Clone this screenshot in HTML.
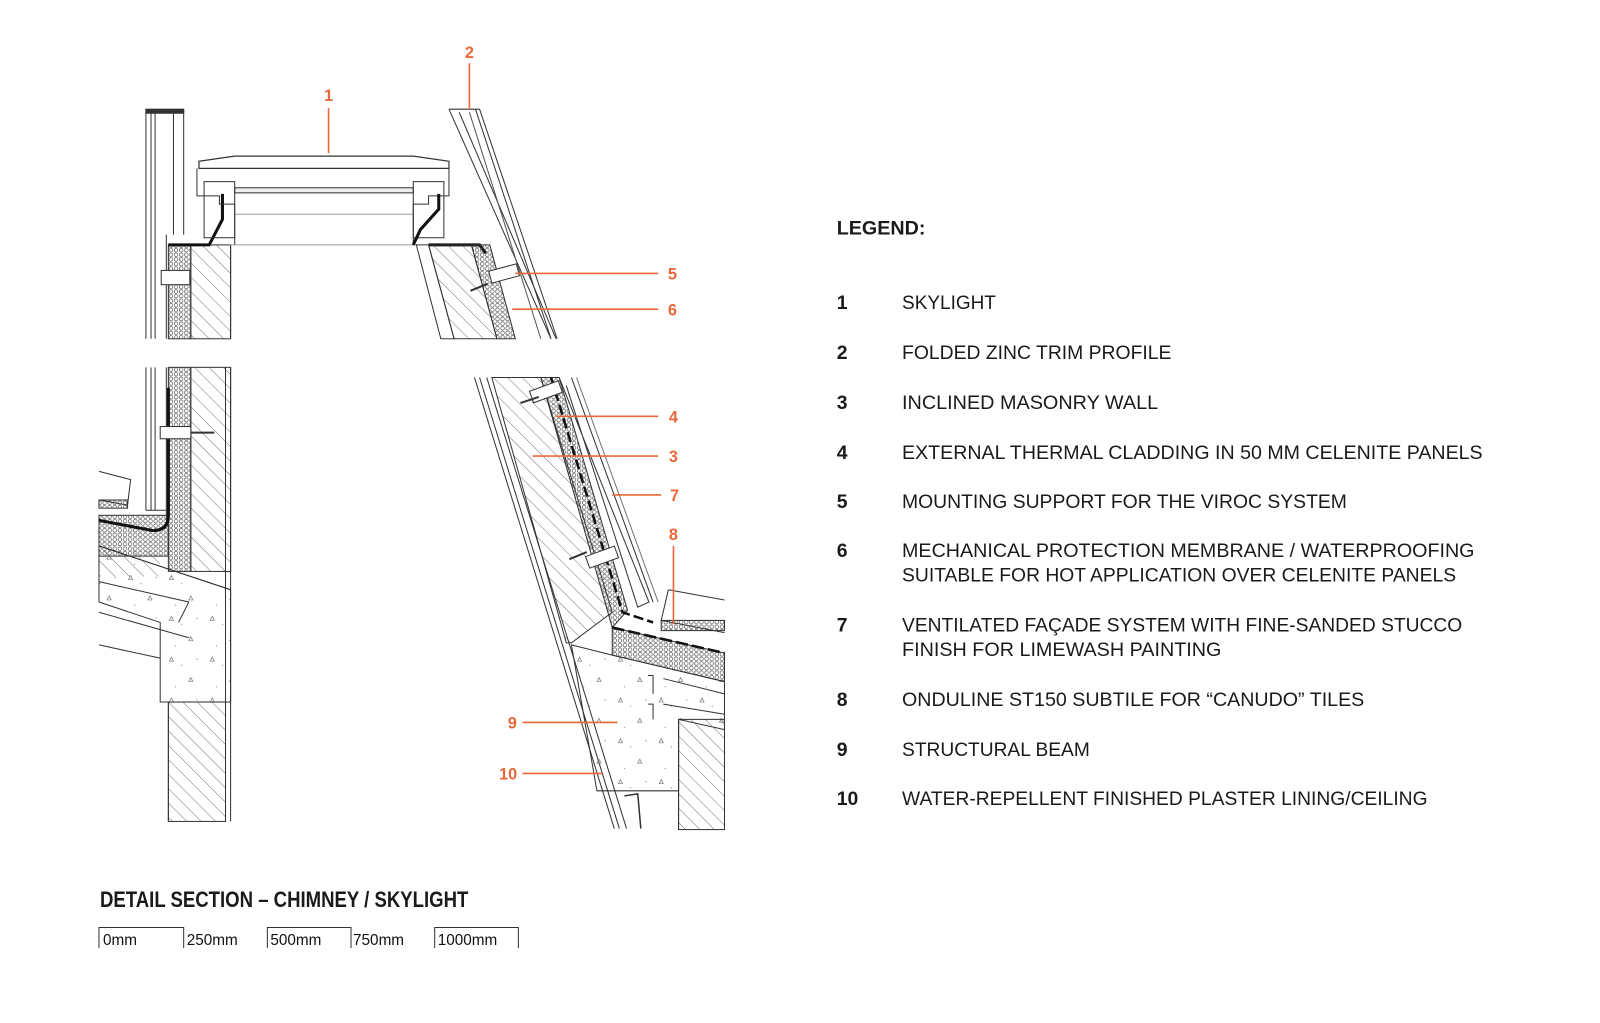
<!DOCTYPE html>
<html><head><meta charset="utf-8"><style>
html,body{margin:0;padding:0;background:#fff;}
svg{display:block;}
</style></head><body>
<svg width="1600" height="1023" viewBox="0 0 1600 1023" xmlns="http://www.w3.org/2000/svg" font-family="Liberation Sans, sans-serif">
<defs>
<pattern id="hatch" width="10" height="10" patternUnits="userSpaceOnUse" patternTransform="rotate(-45)">
<line x1="0" y1="0" x2="0" y2="10" stroke="#555" stroke-width="0.8"/></pattern>
<pattern id="dots" width="5" height="4.5" patternUnits="userSpaceOnUse">
<circle cx="2.5" cy="2.2" r="1.8" fill="none" stroke="#444" stroke-width="0.6"/></pattern>
<pattern id="conc" width="40" height="40" patternUnits="userSpaceOnUse">
<path d="M6 8 l4 0 l-2 -4z M25 28 l4 0 l-2 -4z" fill="none" stroke="#777" stroke-width="0.7"/>
<circle cx="18" cy="12" r="0.6" fill="#888"/><circle cx="33" cy="6" r="0.6" fill="#888"/><circle cx="12" cy="33" r="0.6" fill="#888"/></pattern>
</defs>
<g transform="scale(1.0204)">
<g stroke="#333" stroke-width="1" fill="none">
<rect x="143" y="107" width="37" height="4" fill="#333"/>
<line x1="143" y1="107" x2="143" y2="332"/><line x1="148" y1="107" x2="148" y2="332"/><line x1="152" y1="111" x2="152" y2="332"/>
<line x1="170" y1="111" x2="170" y2="230"/><line x1="180" y1="107" x2="180" y2="230"/>
<line x1="163" y1="230" x2="163" y2="332"/>
<rect x="165" y="240" width="22" height="92" fill="url(#dots)"/>
<rect x="187" y="240" width="39" height="92" fill="url(#hatch)"/>
<line x1="226" y1="240" x2="226" y2="332"/>
<rect x="158" y="265" width="28" height="14" fill="#fff"/>
<path d="M165 240 L205 240 L218 215 L218 190" stroke="#111" stroke-width="3"/>
<path d="M195 158 L230 153 L405 153 L440 158 L440 165 L195 165 Z" fill="#fff" stroke-width="1.2"/>
<path d="M193 165 L193 192 L215 192 L215 200 L230 200 L230 240 M440 165 L440 192 L420 192 L420 200 L405 200 L405 240" />
<rect x="230" y="184" width="175" height="5" fill="#eee"/>
<line x1="230" y1="210" x2="405" y2="210" stroke="#999"/>
<line x1="225" y1="240" x2="410" y2="240" stroke="#999"/>
<rect x="200" y="178" width="30" height="55" /><rect x="405" y="178" width="30" height="55"/>
<path d="M405 240 L412 225 L430 205 L430 190" stroke="#111" stroke-width="3"/>
<path d="M420 240 L470 240 L476 248" stroke="#111" stroke-width="3"/>
<path d="M440 107 L470 107"/><path d="M440 107 L540 332"/><path d="M450 110 L545 332"/><path d="M460 110 L530 332" stroke="#555"/>
<path d="M466 107 L540 332"/><path d="M470 107 L546 332"/>
<polygon points="408,240 420,240 445,332 432,332" fill="#fff"/>
<polygon points="420,240 462,240 487,332 445,332" fill="url(#hatch)"/>
<polygon points="462,240 480,240 505,332 487,332" fill="url(#dots)"/>
<rect x="480" y="262" width="28" height="12" fill="#fff" transform="rotate(-15 494 268)"/>
<line x1="461" y1="285" x2="478" y2="278" stroke-width="2"/>
<line x1="143" y1="360" x2="143" y2="500"/><line x1="148" y1="360" x2="148" y2="500"/><line x1="152" y1="360" x2="152" y2="500"/>
<line x1="163" y1="360" x2="163" y2="510"/>
<line x1="143" y1="500" x2="163" y2="500"/>
<rect x="165" y="360" width="22" height="200" fill="url(#dots)"/>
<rect x="97" y="505" width="68" height="40" fill="url(#dots)"/>
<rect x="187" y="360" width="39" height="200" fill="url(#hatch)"/>
<line x1="221" y1="360" x2="221" y2="805"/><line x1="226" y1="360" x2="226" y2="805"/>
<path d="M165 380 L165 505 Q165 520 150 520 L97 510" stroke="#111" stroke-width="3"/>
<rect x="157" y="418" width="30" height="12" fill="#fff"/>
<line x1="187" y1="424" x2="210" y2="424" stroke-width="2"/>
<path d="M97 462 L128 470 L125 495 L97 490"/>
<rect x="97" y="490" width="28" height="8" fill="url(#dots)"/>
<polygon points="97,535 226,578 226,688 157,688 157,610 97,590" fill="url(#conc)"/>
<rect x="97" y="540" width="60" height="25" fill="url(#hatch)" stroke="none"/>
<path d="M97 570 L185 590 L175 610 M97 600 L185 625"/>
<path d="M97 535 L226 578"/>
<line x1="97" y1="632" x2="157" y2="645"/>
<rect x="165" y="688" width="56" height="117" fill="url(#hatch)"/>
<line x1="165" y1="688" x2="165" y2="805"/>
<path d="M465 370 L602 812"/><path d="M470 370 L607 812"/><path d="M477 370 L614 812"/>
<polygon points="482,370 530,370 600,600 560,630 555,630" fill="url(#hatch)"/>
<polygon points="530,370 548,370 615,598 600,615" fill="url(#dots)"/>
<path d="M540 370 L610 600 L640 610" stroke="#111" stroke-width="2.5" stroke-dasharray="10 4"/>
<path d="M548 370 L636 590 L625 595 L555 378"/>
<path d="M560 370 L640 590"/><path d="M565 370 L645 590" stroke="#777"/>
<rect x="520" y="378" width="30" height="12" fill="#fff" transform="rotate(-20 535 384)"/>
<rect x="575" y="540" width="30" height="12" fill="#fff" transform="rotate(-20 590 546)"/>
<line x1="510" y1="395" x2="528" y2="389" stroke-width="2"/>
<line x1="558" y1="548" x2="575" y2="541" stroke-width="2"/>
<polygon points="600,615 710,640 710,668 600,642" fill="url(#dots)"/>
<path d="M600 615 L710 640" stroke="#111" stroke-width="2.5" stroke-dasharray="12 4"/>
<path d="M655 578 L710 588 M655 578 L648 608 L710 620"/>
<rect x="648" y="608" width="62" height="10" fill="url(#dots)"/>
<polygon points="560,632 600,642 710,668 710,715 665,705 665,775 585,775" fill="url(#conc)"/>
<path d="M635 662 L640 662 L640 680 M635 690 L640 690 L640 705 M650 665 L710 680 M650 690 L710 700"/>
<rect x="665" y="705" width="45" height="108" fill="url(#hatch)"/>
<line x1="665" y1="705" x2="665" y2="813"/>
<path d="M612 780 L625 778 L628 812" stroke-width="1.5"/>
</g>
<g stroke="#e8683a" stroke-width="1.6">
<line x1="322" y1="106" x2="322" y2="150"/>
<line x1="460" y1="62" x2="460" y2="107"/>
<line x1="505" y1="268" x2="645" y2="268"/>
<line x1="502" y1="303" x2="645" y2="303"/>
<line x1="545" y1="408" x2="645" y2="408"/>
<line x1="522" y1="447" x2="645" y2="447"/>
<line x1="600" y1="485" x2="648" y2="485"/>
<line x1="660" y1="535" x2="660" y2="612"/>
<line x1="512" y1="708" x2="605" y2="708"/>
<line x1="512" y1="758" x2="590" y2="758"/>
</g>
<g fill="#e8683a" font-weight="bold" font-size="16" text-anchor="middle">
<text x="322" y="99">1</text><text x="460" y="57">2</text>
<text x="659" y="274">5</text><text x="659" y="309">6</text>
<text x="660" y="414">4</text><text x="660" y="453">3</text>
<text x="661" y="491">7</text><text x="660" y="529">8</text>
<text x="502" y="714">9</text><text x="498" y="764">10</text>
</g>
<g fill="#1a1a1a">
<text x="820" y="230" font-weight="bold" font-size="19" textLength="87" lengthAdjust="spacingAndGlyphs">LEGEND:</text>
<g font-weight="bold" font-size="19">
<text x="820" y="303">1</text><text x="820" y="352">2</text><text x="820" y="401">3</text><text x="820" y="450">4</text><text x="820" y="498">5</text><text x="820" y="546">6</text><text x="820" y="619">7</text><text x="820" y="692">8</text><text x="820" y="741">9</text><text x="820" y="789">10</text>
</g>
<g font-size="19">
<text x="884" y="303" textLength="92" lengthAdjust="spacingAndGlyphs">SKYLIGHT</text>
<text x="884" y="352" textLength="264" lengthAdjust="spacingAndGlyphs">FOLDED ZINC TRIM PROFILE</text>
<text x="884" y="401" textLength="251" lengthAdjust="spacingAndGlyphs">INCLINED MASONRY WALL</text>
<text x="884" y="450" textLength="569" lengthAdjust="spacingAndGlyphs">EXTERNAL THERMAL CLADDING IN 50 MM CELENITE PANELS</text>
<text x="884" y="498" textLength="436" lengthAdjust="spacingAndGlyphs">MOUNTING SUPPORT FOR THE VIROC SYSTEM</text>
<text x="884" y="546" textLength="561" lengthAdjust="spacingAndGlyphs">MECHANICAL PROTECTION MEMBRANE / WATERPROOFING</text>
<text x="884" y="570" textLength="543" lengthAdjust="spacingAndGlyphs">SUITABLE FOR HOT APPLICATION OVER CELENITE PANELS</text>
<text x="884" y="619" textLength="549" lengthAdjust="spacingAndGlyphs">VENTILATED FAÇADE SYSTEM WITH FINE-SANDED STUCCO</text>
<text x="884" y="643" textLength="313" lengthAdjust="spacingAndGlyphs">FINISH FOR LIMEWASH PAINTING</text>
<text x="884" y="692" textLength="453" lengthAdjust="spacingAndGlyphs">ONDULINE ST150 SUBTILE FOR “CANUDO” TILES</text>
<text x="884" y="741" textLength="184" lengthAdjust="spacingAndGlyphs">STRUCTURAL BEAM</text>
<text x="884" y="789" textLength="515" lengthAdjust="spacingAndGlyphs">WATER-REPELLENT FINISHED PLASTER LINING/CEILING</text>
</g>
<text x="98" y="889" font-weight="bold" font-size="22" textLength="361" lengthAdjust="spacingAndGlyphs">DETAIL SECTION – CHIMNEY / SKYLIGHT</text>
</g>
<g stroke="#333" stroke-width="1" fill="none">
<path d="M97 929 L97 909 L180 909 L180 929 M262 929 L262 909 L344 909 L344 929 M426 929 L426 909 L508 909 L508 929"/>
</g>
<g font-size="15" fill="#111">
<text x="101" y="926">0mm</text><text x="183" y="926">250mm</text><text x="265" y="926">500mm</text><text x="346" y="926">750mm</text><text x="429" y="926">1000mm</text>
</g>
</g>
</svg>
</body></html>
